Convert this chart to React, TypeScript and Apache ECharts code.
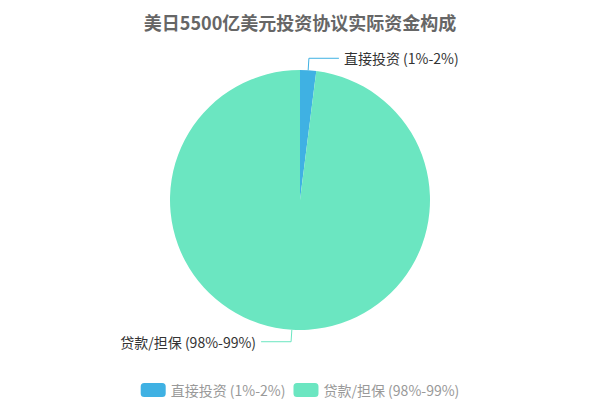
import { useEffect, useRef } from 'react';
import * as echarts from 'echarts';

const titleText = '美日5500亿美元投资协议实际资金构成';
const categories = ['直接投资 (1%-2%)', '贷款/担保 (98%-99%)'];
const values = [2, 98];
const colors = ['#3fb1e3', '#6be6c1'];

export default function App() {
  const chartRef = useRef<HTMLDivElement>(null);

  useEffect(() => {
    if (!chartRef.current) return;
    const chart = echarts.init(chartRef.current, null, { renderer: 'svg' });
    chart.setOption({
      animation: false,
      color: colors,
      textStyle: { fontFamily: '"Noto Sans CJK SC", "Noto Sans", sans-serif' },
      title: {
        text: titleText,
        left: 'center',
        top: 8,
        textStyle: { fontSize: 18, fontWeight: 'bold', color: '#666' },
      },
      legend: {
        data: categories,
        bottom: -2,
        itemWidth: 25,
        itemHeight: 14,
        textStyle: { color: '#999', fontSize: 14, lineHeight: 14 },
      },
      series: [
        {
          type: 'pie',
          radius: 130,
          center: ['50%', '50%'],
          data: categories.map((name, i) => ({ name, value: values[i] })),
          label: { color: '#333', fontSize: 14 },
          labelLine: { length: 12, length2: 30 },
        },
      ],
    });
    return () => chart.dispose();
  }, []);

  return (
    <div
      ref={chartRef}
      style={{ position: 'absolute', left: 0, top: 0, width: 600, height: 400 }}
    />
  );
}
